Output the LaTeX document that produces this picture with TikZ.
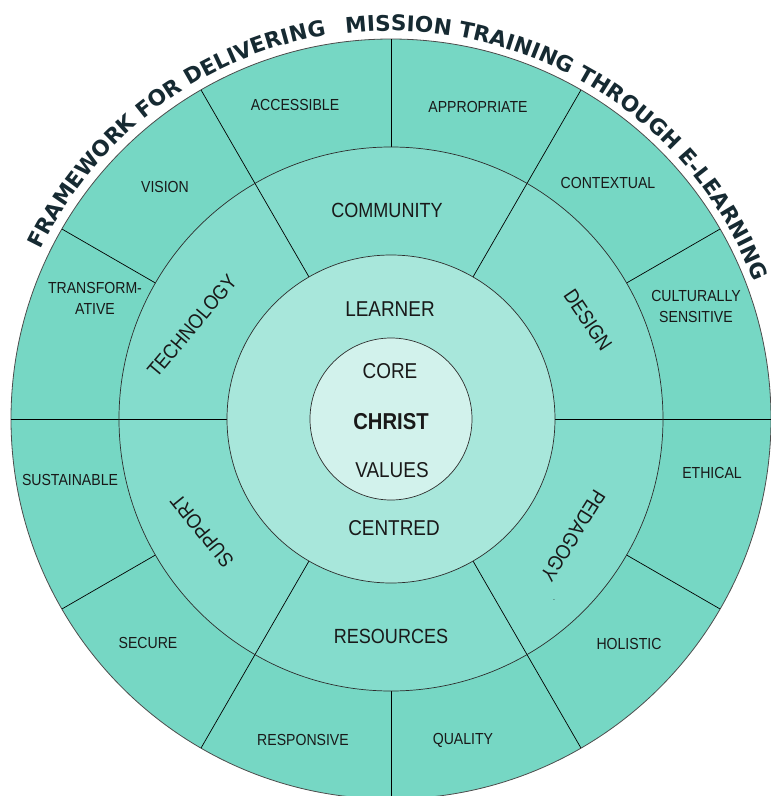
\documentclass[tikz,border=0pt]{standalone}
\usepackage{fontspec}
\newfontfamily\lab{Liberation Sans}[FakeStretch=0.88]
\newfontfamily\ttl{DejaVu Sans}
\usetikzlibrary{decorations.text}
\definecolor{outerc}{RGB}{118,215,196}
\definecolor{midc}{RGB}{132,220,204}
\definecolor{learnc}{RGB}{168,231,219}
\definecolor{corec}{RGB}{210,242,236}
\definecolor{titlec}{RGB}{22,42,50}
\definecolor{linec}{RGB}{45,45,45}
\definecolor{labc}{RGB}{25,25,25}
\begin{document}
\begin{tikzpicture}[x=1pt,y=1pt,
  outerlab/.style={font=\lab\fontsize{16}{21}\selectfont, align=center, text=labc, inner sep=0pt},
  midlab/.style={font=\lab\fontsize{20.5}{24}\selectfont, text=labc, inner sep=0pt},
  innerlab/.style={font=\lab\fontsize{21.5}{24}\selectfont, text=labc, inner sep=0pt},
  ringline/.style={draw=linec, line width=0.7pt},
  spoke/.style={draw=black, line width=0.7pt},
  titletext/.style={decorate, decoration={text along path, text align=center, text color=titlec,
      text={|\ttl\bfseries\fontsize{21.6}{22}\selectfont|#1}}}
]
\useasboundingbox (-391,-377) rectangle (380,419);
\begin{scope}
  \clip (-391,-377) rectangle (380,419);
  \fill[outerc] (0,0) circle (380);
  \draw[draw=gray!60!black, line width=0.8pt] (0,0) circle (380);
  \fill[midc] (0,0) circle (272);
  \foreach \a in {0,60,...,300} \draw[spoke] (\a:164) -- (\a:380);
  \foreach \a in {30,90,...,330} \draw[spoke] (\a:272) -- (\a:380);
  \draw[ringline] (0,0) circle (272);
  \filldraw[fill=learnc, ringline] (0,0) circle (164);
  \filldraw[fill=corec, ringline] (0,0) circle (81);
\end{scope}

% title
\path[titletext={FRAMEWORK FOR DELIVERING}] (154.7:389) arc[start angle=154.7, end angle=99.1, radius=389];
\path[titletext={MISSION TRAINING THROUGH E-LEARNING}] (97.6:388) arc[start angle=97.6, end angle=19.8, radius=388];

% inner
\node[innerlab] (learner) at (-1,110) {LEARNER};
\node[innerlab] (core) at (-1,48) {CORE};
\node[innerlab, font=\lab\bfseries\fontsize{23}{24}\selectfont] (christ) at (0,-3) {CHRIST};
\node[innerlab] (values) at (1,-51) {VALUES};
\node[innerlab] (centred) at (3,-109) {CENTRED};

% middle ring
\node[midlab] (community) at (-4,209) {COMMUNITY};
\node[midlab] (resources) at (0,-217) {RESOURCES};
\node[midlab, rotate=50] (technology) at (-199,93) {TECHNOLOGY};
\node[midlab, rotate=129] (support) at (-189,-112) {SUPPORT};
\node[midlab, rotate=-56] (design) at (197,99) {DESIGN};
\node[midlab, rotate=-122] (pedagogy) at (182,-117) {PEDAGOGY};
\node[font=\lab\fontsize{8}{8}\selectfont, text=labc, inner sep=0pt] (dot) at (163,-181) {.};

% outer ring
\node[outerlab] (accessible) at (-96,314) {ACCESSIBLE};
\node[outerlab] (appropriate) at (87,312) {APPROPRIATE};
\node[outerlab] (vision) at (-226,232) {VISION};
\node[outerlab] (contextual) at (217,236) {CONTEXTUAL};
\node[outerlab] (transformative) at (-296,121) {TRANSFORM-\\ATIVE};
\node[outerlab] (cultural) at (305,113) {CULTURALLY\\SENSITIVE};
\node[outerlab] (sustainable) at (-321,-61) {SUSTAINABLE};
\node[outerlab] (ethical) at (321,-54) {ETHICAL};
\node[outerlab] (secure) at (-243,-224) {SECURE};
\node[outerlab] (holistic) at (238,-225) {HOLISTIC};
\node[outerlab] (responsive) at (-88,-321) {RESPONSIVE};
\node[outerlab] (quality) at (72,-321) {QUALITY};
\end{tikzpicture}
\end{document}
